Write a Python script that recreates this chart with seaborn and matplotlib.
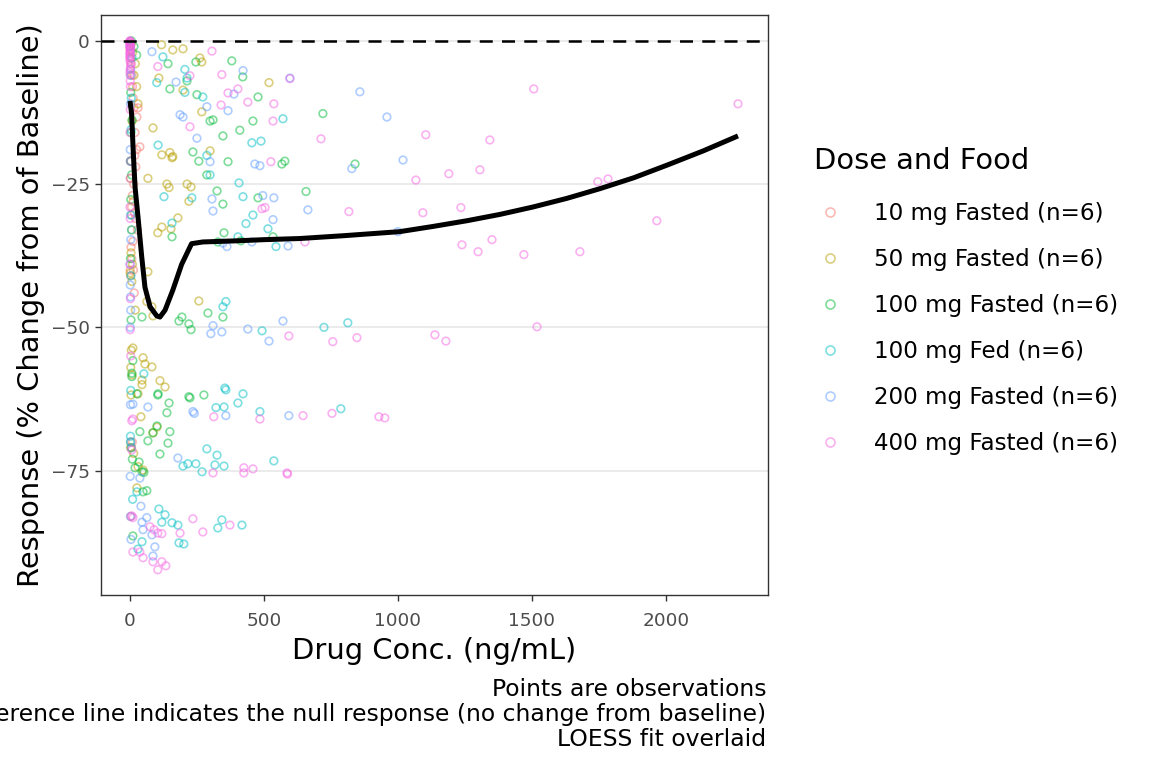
import numpy as np
import pandas as pd
import matplotlib
matplotlib.use("Agg")
import matplotlib.pyplot as plt
from matplotlib.lines import Line2D
import seaborn as sns

# ------------------------------
# Data
# ------------------------------
groups = ["10 mg Fasted (n=6)", "50 mg Fasted (n=6)", "100 mg Fasted (n=6)",
          "100 mg Fed (n=6)", "200 mg Fasted (n=6)", "400 mg Fasted (n=6)"]
colors = ["#F8766D", "#B79F00", "#00BA38", "#00BFC4", "#619CFF", "#F564E3"]

red_conc = [0, 3, 8, 12, 15, 5, 10, 30, 26, 19, 37, 18, 25, 22, 14, 9, 6, 17, 20, 28,
            11, 4, 7, 13, 2, 16, 1, 9, 6, 3]
red_resp = [-1.5, -3, -6, -10, -11.7, -4, -8, -11.7, -13.3, -16, -18.5, -20, -19, -22, -25,
            -27, -29, -30, -31, -33, -35, -36, -38, -40, -41, -44, -40, -70, -71, -83]

olive_conc = [5, 10, 20, 15, 25, 30, 8, 3, 2, 12, 6, 4, 9, 1, 7, 20, 11, 5, 3, 8, 4, 2, 14, 26,
              118, 160, 198, 261, 268, 108, 198, 268, 86, 119, 157, 299, 67, 138, 146, 213,
              228, 220, 179, 119, 104, 153, 67, 63, 82, 86, 257, 49, 82, 56, 45, 45, 112,
              131, 30, 41, 30, 49, 519, 149, 160, 101, 86]
olive_resp = [-0.5, -2, -4, -6, -8, -11, -14, -21, -24, -28, -33, -37, -39, -40.5, -42, -47,
              -53.6, -54, -57, -58.3, -61.8, -71, -72, -78,
              -0.7, -1.6, -1.4, -3, -3.7, -6.5, -8.6, -12.4, -15.2, -19.9, -20.4, -19.2, -24,
              -25, -25.6, -25, -25.5, -28, -30.9, -32.5, -33.5, -32.8, -40.3, -45.5, -46.4,
              -48, -45.4, -55.3, -56.9, -56.4, -59.2, -60, -59.3, -60.4, -61.6, -65.6, -74.3,
              -74.9, -7.3, -19.5, -20.2, -67.4, -68.4]

green_conc = [5, 15, 25, 3, 8, 4, 2, 6, 3, 5, 2, 4, 7, 7, 11, 26, 11, 2, 9, 19, 34,
              142, 246, 380, 421, 213, 149, 250, 478, 459, 299, 310, 347, 410, 235, 257,
              366, 578, 567, 287, 325, 478, 657, 347, 720, 840, 157, 351, 414, 328, 534,
              45, 291, 347, 194, 183, 220, 228, 105, 276, 220, 104, 146, 138, 224, 37, 101,
              149, 86, 67, 142, 112, 45, 52, 63, 49]
green_resp = [0, -1, -2.5, -9, -13.8, -16, -21, -23.4, -27.7, -30.4, -38, -48.7, -58, -58.6,
              -55.8, -61.6, -86.4, -70, -73, -74.5, -73.5,
              -4, -3.7, -3.5, -6.3, -7, -8.4, -9.4, -9.8, -14, -14, -13.8, -16.6, -15.6,
              -19.4, -21, -21.1, -21, -21.5, -23.4, -26.2, -27.4, -26.3, -28.5, -12.7, -21.5,
              -34.2, -33.5, -34.9, -35.1, -34.2, -48.2, -47.5, -48.2, -48.2, -48.9, -49.4,
              -50.4, -61.6, -61.8, -62.1, -61.8, -63.2, -64.9, -62.3, -68.2, -67.2, -68.2,
              -68.4, -69.8, -70.2, -72.1, -75.2, -75.3, -78.5, -78.7]

teal_conc = [2, 8, 3, 5, 4, 2, 6, 4, 3, 2, 5, 10, 26, 45, 30,
             123, 205, 213, 100, 205, 272, 571, 455, 489, 105, 287, 299, 127, 407, 422, 231,
             157, 403, 515, 459, 433, 545, 347, 358, 493, 724, 813, 52, 354, 422, 358, 403,
             321, 351, 485, 787, 287, 325, 537, 198, 216, 246, 269, 317, 351, 108, 131, 119,
             157, 179, 343, 328, 418, 183, 201]
teal_resp = [-1, -3, -6, -10, -15.5, -21, -33, -41, -61, -69, -71, -80, -78.7, -87.4, -88.7,
             -2.8, -5, -6.5, -7.3, -9, -9.8, -13.6, -17.8, -17.5, -18.2, -20, -23.4, -27.2,
             -24.8, -27.2, -27.4, -31.8, -34.2, -32.8, -30.4, -31.9, -35.9, -46.4, -45.5,
             -50.6, -50, -49.2, -58.1, -60.6, -61.6, -60.9, -63.2, -64, -63.9, -64.7, -64.2,
             -71.2, -72.3, -73.3, -74.2, -73.8, -73.8, -75.2, -74, -74.2, -81.7, -82.7, -84,
             -84.1, -84.5, -83.6, -85, -84.5, -87.6, -87.8]

blue_conc = [1, 3, 2, 1, 2, 3, 1, 1, 2, 3, 1, 2, 3, 1, 2, 4,
             82, 422, 597, 172, 388, 287, 366, 187, 198, 250, 299, 466, 485, 496, 537, 306,
             664, 858, 959, 1019, 828, 310, 534, 347, 362, 455, 590, 1000, 310, 302, 343,
             440, 519, 571, 11, 67, 235, 240, 358, 593, 179, 37, 41, 63, 45, 49, 93, 86, 82]
blue_resp = [-1, -5, -11, -19, -30.4, -34.7, -39, -42.6, -44.7, -47, -50, -63.5, -70, -76,
             -83, -87,
             -1.9, -5.2, -6.5, -7.2, -9.3, -11.5, -12.2, -12.9, -13.3, -17, -21.1, -21.5,
             -21.8, -27, -27.4, -27.6, -29.5, -8.9, -13.3, -20.8, -22.3, -29.7, -31.2, -35.3,
             -35.9, -35.1, -35.8, -33.3, -49.7, -51.1, -50.8, -50.3, -52.4, -48.9, -63.4,
             -63.9, -64.7, -65, -65.4, -65.4, -72.8, -76.3, -81.2, -83.2, -84, -85.3, -88.3,
             -89.9, -86.2]

pink_conc = [0, 1, 0, 2, 1, 0, 3, 1, 2, 1, 0, 2, 1, 0, 1, 0, 2, 1, 3, 7, 11, 7, 7, 11, 11,
             37, 49, 0, 1, 0, 0, 1, 0, 1, 2, 0, 1, 0, 2, 1, 0, 1,
             306, 104, 343, 597, 224, 366, 403, 440, 537, 340, 534, 224, 526, 504, 493, 713,
             1104, 1343, 1067, 1190, 1306, 817, 1093, 1235, 1507, 2269, 1746, 1784, 1966,
             1351, 1470, 1679, 1519, 653, 1239, 1299, 757, 847, 1138, 1179, 593, 646, 754,
             929, 951, 313, 485, 310, 425, 425, 459, 586, 588, 235, 373, 272, 75, 90, 104,
             119, 187, 86, 119, 134, 104]
pink_resp = [0, -0.5, -1, -1.5, -2, -3, -4, -6, -8, -12, -16, -21, -24, -29, -31, -39, -45,
             -50.4, -55, -66.3, -66, -71.4, -82.9, -83.2, -89.2, -89.2, -90.2, -0.3, -0.8, -2.5,
             -0.1, -0.2, -0.6, -1.2, -1.8, -2.2, -2.8, -3.5, -4.5, -5, -5.5, -7,
             -1.8, -4.5, -5.9, -6.6, -6.1, -9.1, -8.4, -10.7, -11, -11.2, -14, -15, -21.1,
             -29.1, -29.3, -17.1, -16.4, -17.3, -24.3, -23.2, -22.5, -29.8, -30, -29.1, -8.4,
             -11, -24.6, -24.1, -31.4, -34.7, -37.3, -36.8, -49.9, -35.1, -35.6, -36.8, -52.5,
             -51.8, -51.3, -52.4, -51.5, -65.4, -65, -65.6, -65.8, -65.6, -66, -75.4, -74.5,
             -75.4, -74.7, -75.4, -75.6, -83.4, -84.5, -85.7, -84.8, -85.3, -85.9, -86, -85.9,
             -90.9, -90.9, -91.6, -92.3]

# LOESS fit as drawn in the reference
fit_conc = [0, 6, 12, 19, 30, 44, 56, 75, 100, 112, 131, 160, 193, 230, 272, 400, 500,
            634, 800, 1007, 1130, 1257, 1380, 1504, 1630, 1754, 1880, 2004, 2140, 2269]
fit_resp = [-10.5, -12.6, -19, -25.5, -30.7, -37.7, -43, -46.4, -48, -48.2, -47, -43.5,
            -39, -35.4, -35.1, -34.9, -34.7, -34.5, -34.0, -33.3, -32.4, -31.4, -30.3, -29.0,
            -27.5, -25.8, -23.9, -21.7, -19.2, -16.6]

conc_lists = [red_conc, olive_conc, green_conc, teal_conc, blue_conc, pink_conc]
resp_lists = [red_resp, olive_resp, green_resp, teal_resp, blue_resp, pink_resp]
df = pd.concat([pd.DataFrame({"conc": c, "resp": r, "group": g})
                for c, r, g in zip(conc_lists, resp_lists, groups)], ignore_index=True)

# ------------------------------
# Plot
# ------------------------------
sns.set_style("white")
plt.rcParams['font.family'] = ['DejaVu Sans']
plt.rcParams['text.color'] = 'black'
plt.rcParams['axes.labelcolor'] = 'black'

fig = plt.figure(figsize=(11.52, 7.68), dpi=100)
ax = fig.add_axes([101 / 1152, 1 - 595 / 768, 667 / 1152, 580 / 768])

for y in [0, -25, -50, -75]:
    ax.axhline(y, color="#EBEBEB", lw=1.4, zorder=0)

sns.scatterplot(data=df, x="conc", y="resp", hue="group", hue_order=groups,
                palette=colors, s=30, alpha=0.5, legend=False, ax=ax, zorder=2)
pts = ax.collections[0]
pts.set_edgecolors(pts.get_facecolors())
pts.set_facecolors("none")
pts.set_linewidths(1.2)

ax.axhline(0, color="black", lw=1.8, ls=(0, (5.2, 3.7)), zorder=3)
sns.lineplot(x=fit_conc, y=fit_resp, color="black", lw=3.6, sort=False, ax=ax, zorder=4,
             solid_capstyle="butt")

ax.set_xlim(-108, 2381)
ax.set_ylim(-96.7, 4.5)
ax.set_xticks([0, 500, 1000, 1500, 2000])
ax.set_yticks([0, -25, -50, -75])
ax.tick_params(axis="both", length=4, width=1, color="#333333", labelcolor="#4D4D4D",
               labelsize=13.3, left=True, bottom=True)
ax.tick_params(axis="x", pad=8)
ax.tick_params(axis="y", pad=4)
for sp in ax.spines.values():
    sp.set_color("#333333")
    sp.set_linewidth(1)

ax.set_xlabel("Drug Conc. (ng/mL)", fontsize=20.8, labelpad=5)
ax.set_ylabel("Response (% Change from of Baseline)", fontsize=20.8, labelpad=4)

handles = [Line2D([0], [0], marker="o", ls="", markersize=6.5, markerfacecolor="none",
                  markeredgecolor=c, markeredgewidth=1.2, alpha=0.5) for c in colors]
leg = fig.legend(handles, groups, title="Dose and Food", loc="center left",
                 bbox_to_anchor=(814 / 1152, 1 - 301 / 768), frameon=False,
                 fontsize=16.6, title_fontsize=20.8, labelspacing=1.0,
                 handlelength=1.39, handletextpad=1.2, borderpad=0, borderaxespad=0,
                 alignment="left")
leg._legend_box.sep = 16.6 * 1.0 + 2.5

# Caption
captions = ["Points are observations",
            "Dashed reference line indicates the null response (no change from baseline)",
            "LOESS fit overlaid"]
for txt, ypx in zip(captions, [690, 715, 740]):
    fig.text(766 / 1152, 1 - ypx / 768, txt, ha="right", va="center", fontsize=16.9)

fig.savefig("out.png", dpi=100)
